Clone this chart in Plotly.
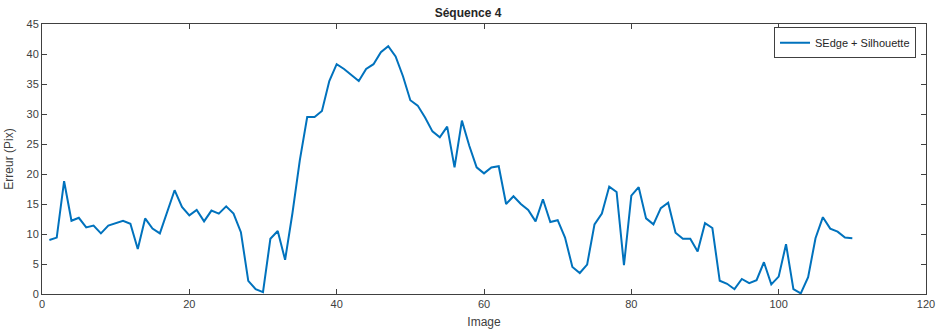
import plotly.graph_objects as go

# Erreur par image - séquence 4
image = list(range(1, 111))
erreur = [
    9.0, 9.4, 18.8, 12.2, 12.7, 11.1, 11.4, 10.1, 11.4, 11.8,
    12.2, 11.7, 7.5, 12.6, 10.9, 10.1, 13.6, 17.3, 14.5, 13.1,
    14.0, 12.1, 13.9, 13.4, 14.6, 13.4, 10.3, 2.2, 0.8, 0.3,
    9.2, 10.5, 5.7, 13.5, 22.3, 29.5, 29.5, 30.5, 35.5, 38.3,
    37.5, 36.5, 35.5, 37.5, 38.3, 40.3, 41.3, 39.6, 36.3, 32.3,
    31.4, 29.4, 27.1, 26.1, 27.9, 21.1, 28.9, 24.7, 21.1, 20.1,
    21.1, 21.3, 15.0, 16.3, 15.0, 14.0, 12.1, 15.8, 12.0, 12.3,
    9.4, 4.5, 3.5, 4.9, 11.6, 13.4, 17.9, 17.0, 4.8, 16.4,
    17.8, 12.6, 11.6, 14.3, 15.2, 10.2, 9.2, 9.2, 7.1, 11.8,
    11.0, 2.2, 1.7, 0.8, 2.5, 1.8, 2.3, 5.3, 1.6, 2.9,
    8.3, 0.8, 0.1, 2.8, 9.3, 12.8, 10.9, 10.4, 9.4, 9.3,
]
serie = "SEdge + Silhouette"

fig = go.Figure()
fig.add_trace(go.Scatter(x=image, y=erreur, mode="lines", name=serie,
                         line=dict(color="#0072BD", width=2)))

axe = dict(
    showgrid=False, zeroline=False, showline=True, mirror="ticks",
    linecolor="#404040", linewidth=1, ticks="inside", ticklen=5,
    tickcolor="#404040", tickfont=dict(size=11, color="#404040"),
    title_font=dict(size=12, color="#404040"), automargin=False,
)

fig.update_layout(
    width=936, height=331,
    margin=dict(l=42, r=10, t=24, b=37),
    paper_bgcolor="white", plot_bgcolor="white",
    font=dict(family="Liberation Sans, Arial, sans-serif", color="#262626"),
    title=dict(text="<b>Séquence 4</b>", x=0.5, xanchor="center",
               y=0.975, yanchor="top", font=dict(size=12, color="#262626")),
    xaxis=dict(axe, range=[0, 120], tickvals=[0, 20, 40, 60, 80, 100, 120],
               title=dict(text="Image", standoff=8)),
    yaxis=dict(axe, range=[0, 45], tickvals=list(range(0, 46, 5)),
               title=dict(text="Erreur (Pix)", standoff=10)),
    showlegend=True,
    legend=dict(x=0.9887, y=0.931, xanchor="right", yanchor="middle",
                bordercolor="#404040", borderwidth=1, bgcolor="white",
                font=dict(size=11, color="#262626"),
                itemwidth=30, tracegroupgap=0),
)

# pas de marge de page ni de barres de défilement, pas de modebar
fig.write_html("out.html", config={"displayModeBar": False},
               post_script="document.body.style.margin='0';"
                           "document.body.style.overflow='hidden';")
